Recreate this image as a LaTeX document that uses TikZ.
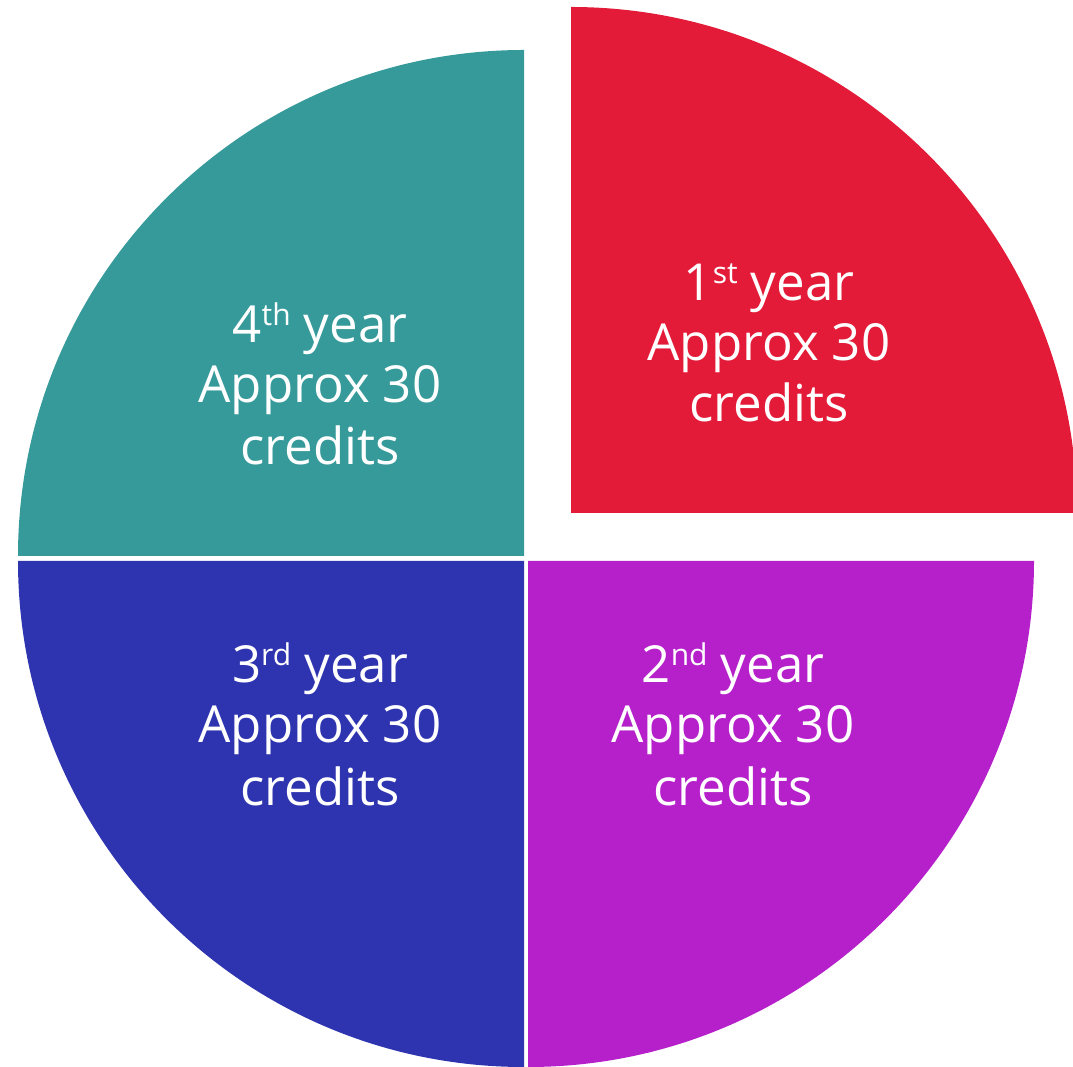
\documentclass[tikz,border=0pt]{standalone}
\usepackage{fontspec}
\setmainfont{Open Sans}
\definecolor{cred}{HTML}{E31A38}
\definecolor{cteal}{HTML}{369A9A}
\definecolor{cblue}{HTML}{2E34B0}
\definecolor{cmag}{HTML}{B520CA}
\newcommand{\mysup}[1]{\raisebox{17pt}{\fontsize{30}{30}\selectfont #1}}
\tikzset{
  lbl/.style={text=white, anchor=base, inner sep=0pt, font=\fontsize{51}{61}\selectfont},
  sector/.style={draw=none}
}
\begin{document}
\begin{tikzpicture}[x=1pt,y=1pt]
\useasboundingbox (0,0) rectangle (1073,1066);
\clip (0,0) rectangle (1073,1066);
% teal (4th)
\fill[cteal] (524,510) -- ++(0,506) arc[start angle=90, end angle=180, radius=506] -- cycle;
% blue (3rd)
\fill[cblue] (524,505) -- ++(-506,0) arc[start angle=180, end angle=270, radius=506] -- cycle;
% magenta (2nd)
\fill[cmag] (528,505) -- ++(0,-506) arc[start angle=270, end angle=360, radius=506] -- cycle;
% red (1st)
\fill[cred] (571,553) -- ++(506,0) arc[start angle=0, end angle=90, radius=506] -- cycle;
% labels
\node[lbl] (r1) at (769,765) {1\mysup{st} year};
\node[lbl] (r2) at (769,705) {Approx 30};
\node[lbl] (r3) at (769,644) {credits};
\node[lbl] (t1) at (320,723) {4\mysup{th} year};
\node[lbl] (t2) at (320,663) {Approx 30};
\node[lbl] (t3) at (320,601) {credits};
\node[lbl] (b1) at (320,383) {3\mysup{rd} year};
\node[lbl] (b2) at (320,323) {Approx 30};
\node[lbl] (b3) at (320,261) {credits};
\node[lbl] (m1) at (733,383) {2\mysup{nd} year};
\node[lbl] (m2) at (733,323) {Approx 30};
\node[lbl] (m3) at (733,261) {credits};
\end{tikzpicture}
\end{document}
